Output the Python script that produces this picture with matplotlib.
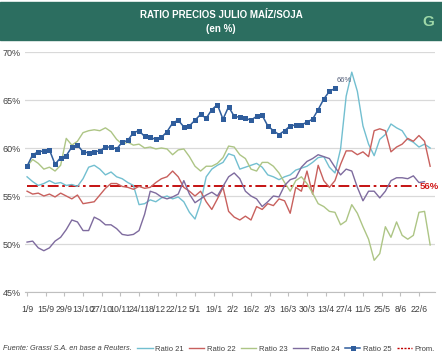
import numpy as np
import matplotlib
matplotlib.use("Agg")
import matplotlib.pyplot as plt
from matplotlib.patches import Rectangle
from matplotlib.lines import Line2D

plt.rcParams['font.family'] = ['Liberation Sans Narrow', 'Liberation Sans', 'DejaVu Sans']

# trading-day index of each reading (every 3 sessions)
step = 3
tick_labels = ["1/9", "15/9", "29/9", "13/10", "27/10", "10/11", "24/11", "8/12",
               "22/12", "5/1", "19/1", "2/2", "16/2", "2/3", "16/3", "30/3",
               "13/4", "27/4", "11/5", "25/5", "8/6", "22/6"]

ratio_21 = [57.0, 56.5, 56.1, 56.3, 56.6, 56.3, 56.4, 56.1, 56.2, 56.0,
            56.8, 58.0, 58.2, 57.8, 57.2, 57.5, 57.0, 56.8, 56.4, 56.1,
            54.1, 54.2, 54.6, 54.4, 54.8, 55.0, 54.7, 54.9, 54.4, 53.3,
            52.6, 54.3, 57.0, 57.8, 58.2, 58.5, 59.4, 59.2, 57.8, 58.0,
            58.2, 58.4, 58.0, 57.2, 57.0, 56.7, 57.0, 57.2, 57.7, 57.9,
            58.1, 58.5, 59.0, 59.1, 58.0, 57.4, 59.9, 65.4, 67.9, 65.9,
            62.3, 60.4, 59.2, 60.9, 61.4, 62.5, 62.1, 61.8, 60.9, 60.6,
            60.1, 60.4, 60.0]
ratio_22 = [55.5, 55.2, 55.3, 55.0, 55.2, 54.9, 55.3, 55.0, 54.7, 55.1,
            54.2, 54.3, 54.4, 55.1, 55.8, 56.3, 56.3, 56.0, 55.9, 55.7,
            56.0, 55.8, 55.9, 56.4, 56.8, 57.0, 57.6, 57.0, 55.9, 55.5,
            55.0, 55.5, 54.4, 53.6, 54.7, 55.9, 53.4, 52.8, 52.5, 52.9,
            52.5, 53.9, 53.6, 54.2, 54.0, 54.7, 54.5, 53.2, 55.9, 55.5,
            57.6, 55.2, 58.2, 56.6, 55.9, 56.6, 58.3, 59.7, 59.7, 59.3,
            59.6, 59.1, 61.8, 62.0, 61.8, 59.6, 60.1, 60.4, 61.0, 60.7,
            61.3, 60.7, 58.1]
ratio_23 = [58.1, 58.8, 58.4, 57.8, 58.0, 57.6, 58.2, 61.0, 60.3, 60.7,
            61.6, 61.8, 61.9, 61.8, 62.1, 61.7, 60.9, 60.4, 60.6, 60.3,
            60.4, 60.0, 60.1, 59.9, 60.0, 59.9, 59.3, 59.8, 59.9, 59.1,
            58.1, 57.6, 58.1, 58.1, 58.4, 59.0, 60.2, 60.1, 59.3, 58.9,
            57.8, 57.6, 58.5, 58.5, 58.1, 57.4, 56.4, 55.5, 56.6, 57.0,
            56.3, 55.3, 54.2, 53.9, 53.4, 53.3, 52.0, 52.4, 54.1, 53.2,
            51.8, 50.5, 48.3, 49.0, 51.8, 50.7, 52.3, 50.9, 50.5, 50.9,
            53.3, 53.4, 49.9]
ratio_24 = [50.2, 50.3, 49.6, 49.3, 49.6, 50.3, 50.7, 51.5, 52.5, 52.3,
            51.4, 51.4, 52.8, 52.5, 52.0, 52.0, 51.6, 51.0, 50.9, 51.0,
            51.4, 53.1, 55.5, 55.3, 54.9, 54.7, 54.9, 55.2, 56.6, 55.2,
            54.3, 54.7, 55.1, 55.4, 55.0, 56.0, 57.0, 57.4, 56.8, 55.5,
            55.0, 54.7, 53.9, 54.4, 55.0, 54.9, 56.1, 56.7, 56.9, 58.0,
            58.6, 58.9, 59.3, 59.1, 58.9, 58.0, 57.2, 57.8, 57.6, 55.9,
            54.5, 55.5, 55.5, 54.8, 55.5, 56.6, 56.9, 56.9, 56.8, 57.1,
            56.4, 56.5]
ratio_25 = [58.1, 59.3, 59.6, 59.7, 59.8, 58.3, 59.0, 59.2, 60.1, 60.3,
            59.6, 59.5, 59.6, 59.7, 60.1, 60.1, 59.9, 60.6, 60.8, 61.6,
            61.8, 61.2, 61.1, 60.9, 61.1, 61.7, 62.6, 62.9, 62.2, 62.3,
            62.9, 63.5, 63.1, 64.0, 64.5, 63.0, 64.3, 63.3, 63.2, 63.1,
            62.9, 63.3, 63.4, 62.3, 61.8, 61.4, 61.8, 62.3, 62.4, 62.4,
            62.7, 63.0, 64.0, 65.1, 65.9, 66.2]
prom = 56.0

series = [("Ratio 21", ratio_21, "#72bfd0"),
          ("Ratio 22", ratio_22, "#c8605d"),
          ("Ratio 23", ratio_23, "#adc585"),
          ("Ratio 24", ratio_24, "#7e6b9e")]

fig = plt.figure(figsize=(4.42, 3.63), dpi=100)

# header band
fig.patches.append(Rectangle((0, 1 - 40 / 363), 1, 38 / 363, transform=fig.transFigure,
                             color="#2c6e60", zorder=0))
fig.text(0.5, 1 - 15 / 363, "RATIO PRECIOS JULIO MAÍZ/SOJA", color="white",
         ha="center", va="center", fontsize=7, fontweight="bold")
fig.text(0.5, 1 - 29 / 363, "(en %)", color="white", ha="center", va="center",
         fontsize=7, fontweight="bold")
fig.text(428 / 442, 1 - 22 / 363, "G", color="#9fd8a8", ha="center", va="center",
         fontsize=11, fontweight="bold")

ax = fig.add_axes([25 / 442, 71 / 363, 410 / 442, 240 / 363])

for name, vals, col in series:
    x = np.arange(len(vals)) * step
    ax.plot(x, vals, color=col, lw=1.0, label=name)

x25 = np.arange(len(ratio_25)) * step
ax.plot(x25, ratio_25, color="#2f5d9c", lw=1.1, marker="s", markersize=3.6,
        markeredgewidth=0, label="Ratio 25")

ax.plot([0, 209], [prom, prom], color="#c00000", lw=1.3, dashes=(6, 2, 1.5, 2), zorder=1.5)
ax.text(210.5, prom, "56%", color="#d01818", fontsize=6.8, fontweight="bold",
        ha="left", va="center", clip_on=False)
ax.annotate("66%", (x25[-1], ratio_25[-1]), xytext=(1, 5), textcoords="offset points",
            color="#55607a", fontsize=5.5)

ax.set_xlim(-1.1, 218.6)
ax.set_ylim(45, 70)
ax.set_yticks([45, 50, 55, 60, 65, 70])
ax.set_yticklabels(["45%", "50%", "55%", "60%", "65%", "70%"])
ax.set_xticks(np.arange(len(tick_labels)) * 10)
ax.set_xticklabels(tick_labels)
ax.tick_params(axis="y", length=0, labelsize=6.5, colors="#404040", pad=3)
ax.tick_params(axis="x", length=3, color="#bfbfbf", labelsize=6.3, labelcolor="#404040", pad=6)
ax.grid(axis="y", color="#d9d9d9", lw=0.9)
ax.set_axisbelow(True)
for s in ["top", "right", "left"]:
    ax.spines[s].set_visible(False)
ax.spines["bottom"].set_color("#bfbfbf")

fig.text(3 / 442, 1 - 349 / 363, "Fuente: Grassi S.A. en base a Reuters.",
         fontsize=5.3, style="italic", color="#404040", va="center")

handles, labels = ax.get_legend_handles_labels()
handles.append(Line2D([], [], color="#c00000", lw=1.0, ls=(0, (1.5, 1))))
labels.append("Prom.")
fig.legend(handles, labels, loc="center", bbox_to_anchor=(286 / 442, 1 - 349 / 363),
           ncol=6, frameon=False, fontsize=5.5, handlelength=2.0, handletextpad=0.3,
           columnspacing=0.75, labelcolor="#404040", borderaxespad=0, borderpad=0)

fig.savefig("out.png", dpi=100)
